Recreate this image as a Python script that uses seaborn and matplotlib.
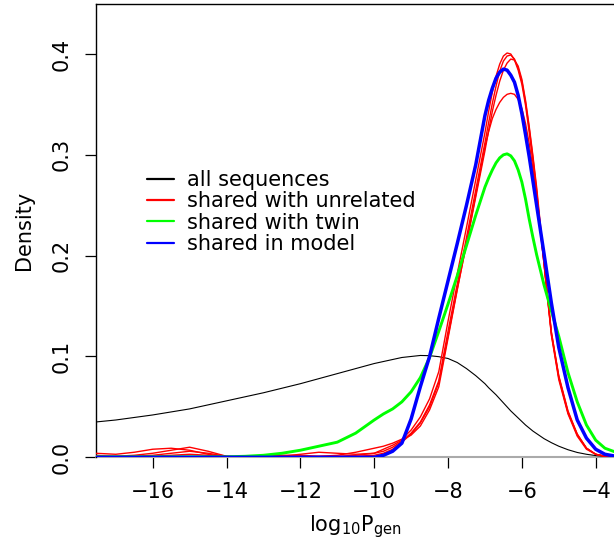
import matplotlib
matplotlib.use("Agg")
import matplotlib.pyplot as plt
from matplotlib.lines import Line2D
import pandas as pd
import seaborn as sns

# ---------------- data ----------------
x_grid = [-17.55, -17.0, -16.5, -16.0, -15.5, -15.0, -14.5, -14.0, -13.5, -13.0,
          -12.5, -12.0, -11.5, -11.0, -10.5, -10.0, -9.75, -9.5, -9.25, -9.0,
          -8.75, -8.5, -8.25, -8.0, -7.75, -7.5, -7.25,
          -7.0, -6.9, -6.8, -6.7, -6.6, -6.5, -6.4, -6.3, -6.2, -6.1,
          -6.0, -5.9, -5.8, -5.7, -5.6, -5.4, -5.2, -5.0, -4.75, -4.5,
          -4.25, -4.0, -3.75, -3.45]

all_sequences = [0.035, 0.037, 0.0395, 0.042, 0.045, 0.048, 0.052, 0.056, 0.060, 0.064,
                 0.0685, 0.073, 0.078, 0.083, 0.088, 0.093, 0.095, 0.097, 0.099, 0.100,
                 0.101, 0.1008, 0.0998, 0.098, 0.094, 0.088, 0.081,
                 0.073, 0.069, 0.0655, 0.062, 0.058, 0.054, 0.050, 0.046, 0.0425, 0.039,
                 0.0355, 0.032, 0.029, 0.026, 0.0235, 0.0185, 0.0145, 0.011, 0.0075, 0.0048,
                 0.003, 0.0017, 0.001, 0.0005]

unrelated_1 = [0.004, 0.003, 0.005, 0.008, 0.009, 0.007, 0.003, 0.0005, 0.0003, 0.001,
               0.002, 0.002, 0.001, 0.002, 0.005, 0.009, 0.011, 0.014, 0.018, 0.027,
               0.040, 0.058, 0.085, 0.135, 0.182, 0.228, 0.275,
               0.322, 0.343, 0.362, 0.378, 0.390, 0.398, 0.401, 0.400, 0.394, 0.384,
               0.370, 0.349, 0.322, 0.293, 0.262, 0.192, 0.122, 0.079, 0.044, 0.023,
               0.009, 0.003, 0.001, 0.0002]

unrelated_2 = [0.001, 0.001, 0.002, 0.004, 0.007, 0.010, 0.006, 0.001, 0.0, 0.0005,
               0.001, 0.003, 0.005, 0.004, 0.003, 0.004, 0.006, 0.010, 0.016, 0.024,
               0.035, 0.052, 0.076, 0.125, 0.172, 0.218, 0.265,
               0.312, 0.332, 0.351, 0.368, 0.383, 0.393, 0.398, 0.399, 0.395, 0.386,
               0.373, 0.352, 0.326, 0.297, 0.265, 0.192, 0.121, 0.077, 0.043, 0.021,
               0.008, 0.003, 0.001, 0.0002]

unrelated_3 = [0.002, 0.0005, 0.001, 0.002, 0.004, 0.006, 0.004, 0.001, 0.0, 0.0,
               0.0, 0.0005, 0.001, 0.001, 0.002, 0.004, 0.008, 0.012, 0.017, 0.022,
               0.031, 0.047, 0.070, 0.118, 0.166, 0.212, 0.258,
               0.304, 0.324, 0.343, 0.359, 0.373, 0.384, 0.391, 0.395, 0.394, 0.388,
               0.375, 0.354, 0.328, 0.299, 0.268, 0.195, 0.124, 0.080, 0.045, 0.022,
               0.009, 0.003, 0.001, 0.0002]

unrelated_4 = [0.001, 0.0, 0.0, 0.001, 0.002, 0.003, 0.002, 0.0005, 0.0, 0.0,
               0.0, 0.0, 0.0, 0.0005, 0.001, 0.002, 0.004, 0.008, 0.015, 0.023,
               0.034, 0.050, 0.074, 0.120, 0.167, 0.212, 0.260,
               0.308, 0.323, 0.336, 0.345, 0.352, 0.357, 0.360, 0.361, 0.360, 0.355,
               0.346, 0.331, 0.311, 0.286, 0.258, 0.192, 0.124, 0.081, 0.046, 0.023,
               0.009, 0.003, 0.001, 0.0002]

shared_with_twin = [0.0005, 0.0005, 0.0005, 0.0005, 0.0005, 0.0005, 0.0005, 0.0005, 0.001, 0.002,
                    0.004, 0.007, 0.011, 0.015, 0.024, 0.037, 0.043, 0.048, 0.055, 0.065,
                    0.079, 0.099, 0.125, 0.152, 0.180, 0.210, 0.240,
                    0.268, 0.277, 0.285, 0.292, 0.297, 0.300, 0.301, 0.299, 0.294, 0.285,
                    0.273, 0.256, 0.236, 0.218, 0.201, 0.171, 0.145, 0.120, 0.084, 0.055,
                    0.032, 0.017, 0.009, 0.005]

shared_in_model = [0.0, 0.0, 0.0, 0.0, 0.0, 0.0, 0.0, 0.0, 0.0, 0.0,
                   0.0, 0.0, 0.0, 0.0, 0.0, 0.0, 0.002, 0.006, 0.014, 0.038,
                   0.070, 0.100, 0.138, 0.175, 0.212, 0.250, 0.290,
                   0.339, 0.354, 0.366, 0.376, 0.382, 0.385, 0.384, 0.379, 0.372, 0.359,
                   0.341, 0.320, 0.298, 0.274, 0.250, 0.202, 0.153, 0.109, 0.069, 0.037,
                   0.019, 0.008, 0.003, 0.001]

series_labels = ["all sequences", "shared with unrelated", "shared with twin", "shared in model"]
series_colors = ["#000000", "#FF0000", "#00FF00", "#0000FF"]
x_ticks = [-16, -14, -12, -10, -8, -6, -4]
y_ticks = [0.0, 0.1, 0.2, 0.3, 0.4]

# ---------------- build long table ----------------
rows = []
def add(series, unit, ys):
    for xv, yv in zip(x_grid, ys):
        rows.append({"x": xv, "density": yv, "series": series, "unit": unit})

add("all sequences", 0, all_sequences)
for i, ys in enumerate([unrelated_1, unrelated_2, unrelated_3, unrelated_4]):
    add("shared with unrelated", i, ys)
add("shared with twin", 0, shared_with_twin)
add("shared in model", 0, shared_in_model)
df = pd.DataFrame(rows)

# ---------------- style ----------------
sns.set_style("ticks")
plt.rcParams["font.family"] = ["DejaVu Sans"]
plt.rcParams["mathtext.fontset"] = "dejavusans"
plt.rcParams["text.color"] = "black"
plt.rcParams["axes.labelcolor"] = "black"
plt.rcParams["xtick.color"] = "black"
plt.rcParams["ytick.color"] = "black"

FS = 15

fig = plt.figure(figsize=(6.14, 5.42), dpi=100)
ax = fig.add_axes([96 / 614, 84.7 / 542, 518 / 614, 453 / 542])

ax.axhline(0, color="#aaaaaa", lw=1.5, zorder=1, clip_on=False)

widths = {"all sequences": 0.8, "shared with unrelated": 1.0,
          "shared with twin": 2.1, "shared in model": 2.5}
for lab, col in zip(series_labels, series_colors):
    sub = df[df["series"] == lab]
    sns.lineplot(data=sub, x="x", y="density", units="unit", estimator=None,
                 color=col, lw=widths[lab], ax=ax, sort=False, legend=False,
                 zorder=3)

ax.set_xlim(-17.536, -3.504)
ax.set_ylim(0, 0.4493)
ax.set_xticks(x_ticks)
ax.set_yticks(y_ticks)

for s in ["right", "bottom"]:
    ax.spines[s].set_visible(False)
for s in ["left", "top"]:
    ax.spines[s].set_color("black")
    ax.spines[s].set_linewidth(1.0)

ax.tick_params(axis="both", direction="out", length=8, width=0.9, color="black",
               labelsize=FS, labelcolor="black", pad=9.5)
ax.tick_params(axis="y", labelrotation=90)
for lbl in ax.get_yticklabels():
    lbl.set_va("center")

ax.set_xlabel(r"$\mathrm{log}_{10}\mathrm{P}_{\mathrm{gen}}$", fontsize=FS, labelpad=8,
              color="black")
ax.set_ylabel("Density", fontsize=FS, labelpad=13, color="black")

handles = [Line2D([], [], color=c, lw=1.6) for c in series_colors]
leg = ax.legend(handles, series_labels, loc="center left",
                bbox_to_anchor=(147 / 614, 1 - 212 / 542), bbox_transform=fig.transFigure,
                frameon=False, borderpad=0, borderaxespad=0, handlelength=1.3,
                handletextpad=0.6, labelspacing=0.07, fontsize=FS)
for t in leg.get_texts():
    t.set_color("black")

fig.savefig("out.png", dpi=100)
